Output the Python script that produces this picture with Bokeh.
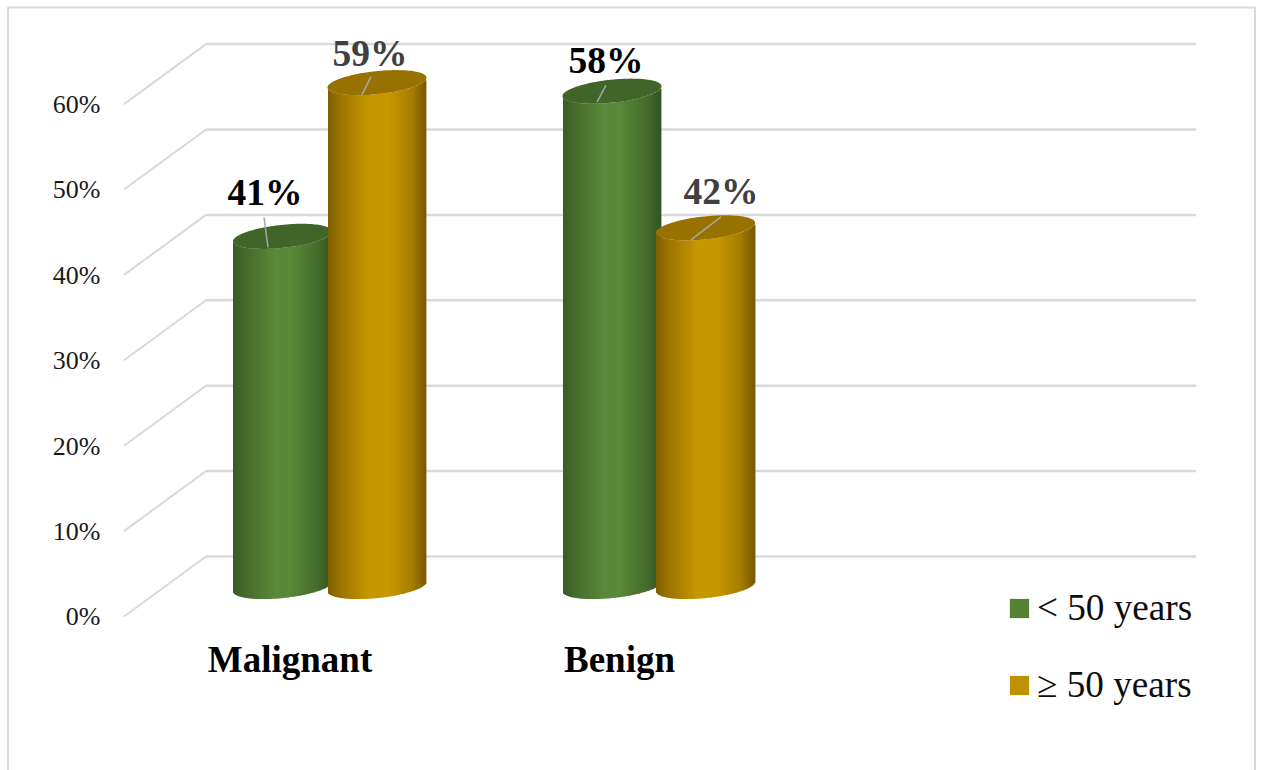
import numpy as np
from bokeh.core.properties import value
from bokeh.embed import file_html
from bokeh.models import Legend, LegendItem
from bokeh.plotting import figure
from bokeh.resources import INLINE

# Chart values
categories = ["Malignant", "Benign"]
under_50 = [41, 58]
over_50 = [59, 42]
under_50_labels = ["41%", "58%"]
over_50_labels = ["59%", "42%"]
tick_values = [0, 10, 20, 30, 40, 50, 60]
tick_labels = ["0%", "10%", "20%", "30%", "40%", "50%", "60%"]
legend_labels = ["< 50 years", "\u2265 50 years"]

W, H = 1262, 770
SERIF = value("Liberation Serif")

# Vertical scale: percent on the back wall, 8.54 px per percentage point
PX_PER_PCT = 8.54
WALL_ZERO_PX = 557
FRONT_DROP_PX = 60
WALL_LEFT, WALL_RIGHT, FRONT_LEFT = 206, 1196, 124
CYL_BASE_PX = 587
GRID = "#d9d9d9"
# Text drawn with an alphabetic baseline lands this fraction of its size low
BASELINE_FIX = 0.33


def from_top(px):
    """Vertical position given in pixels from the top edge, as a percent coordinate."""
    return (WALL_ZERO_PX - np.asarray(px, dtype=float)) / PX_PER_PCT


p = figure(
    width=W, height=H, output_backend="svg", toolbar_location=None,
    x_range=(0.5, W + 0.5), y_range=(float(from_top(H + 1)), float(from_top(1))),
    min_border=0, outline_line_color=None, background_fill_color="white",
)
p.axis.visible = False
p.grid.visible = False

# Outer chart border, open at the bottom
p.line([8, 8, 1255, 1255], from_top([H + 5, 8, 8, H + 5]), line_color=GRID, line_width=2)

# Back wall gridlines and the floor-side diagonals running to the front plane
for v in tick_values:
    p.line([WALL_LEFT, WALL_RIGHT], [v, v], line_color=GRID, line_width=2.5)
    p.line([FRONT_LEFT, WALL_LEFT], [v - FRONT_DROP_PX / PX_PER_PCT, v], line_color=GRID, line_width=2)

# Tick labels sit on the front plane
TICK_SIZE = 26
p.text(
    x=[100.5] * len(tick_values),
    y=[v - (FRONT_DROP_PX + 9 - BASELINE_FIX * TICK_SIZE) / PX_PER_PCT for v in tick_values],
    text=tick_labels, text_font=SERIF, text_font_size=f"{TICK_SIZE}px",
    text_align="right", text_baseline="alphabetic", text_color="#1a1a1a",
)

# Cylinder cross-section: a tilted ellipse, in pixels
SEMI_MAJOR, SEMI_MINOR, TILT = 49.8, 11.5, np.radians(6)
c, s = np.cos(TILT), np.sin(TILT)
A = c**2 / SEMI_MAJOR**2 + s**2 / SEMI_MINOR**2
B = 2 * c * s * (1 / SEMI_MAJOR**2 - 1 / SEMI_MINOR**2)
C = s**2 / SEMI_MAJOR**2 + c**2 / SEMI_MINOR**2
HALF_W = np.sqrt(SEMI_MAJOR**2 * c**2 + SEMI_MINOR**2 * s**2)


def lower_edge(dx):
    """Lower outline of the ellipse (pixels, up positive) at horizontal offset dx."""
    root = np.sqrt(np.maximum(B**2 * dx**2 - 4 * C * (A * dx**2 - 1), 0))
    return (-B * dx - root) / (2 * C)


def shade(stops, t):
    stops = np.array(stops, dtype=float)
    rgb = [np.interp(t, stops[:, 0], stops[:, i]) for i in (1, 2, 3)]
    return ["#%02x%02x%02x" % (int(r), int(g), int(b)) for r, g, b in zip(*rgb)]


GREEN_STOPS = [(0, 0x39, 0x5c, 0x26), (0.12, 0x44, 0x6b, 0x2c), (0.42, 0x59, 0x89, 0x39),
               (0.58, 0x59, 0x89, 0x39), (0.85, 0x45, 0x6c, 0x2c), (1, 0x34, 0x52, 0x20)]
GOLD_STOPS = [(0, 0x80, 0x5e, 0x00), (0.14, 0x9e, 0x76, 0x00), (0.42, 0xc6, 0x98, 0x00),
              (0.62, 0xc6, 0x98, 0x00), (0.85, 0xa6, 0x7e, 0x00), (1, 0x78, 0x58, 0x00)]
GREEN_CAP, GOLD_CAP = "#3f6529", "#977200"


def cylinder(cx, pct, stops, cap_color):
    top_px = CYL_BASE_PX - pct * PX_PER_PCT
    edges = np.arange(np.ceil(cx - HALF_W), np.floor(cx + HALF_W))
    dx = edges + 0.5 - cx
    t = (dx + HALF_W) / (2 * HALF_W)
    p.quad(
        left=edges, right=edges + 1.4,
        bottom=from_top(CYL_BASE_PX - lower_edge(dx)),
        top=from_top(top_px - lower_edge(dx)),
        fill_color=shade(stops, t), line_color=None,
    )
    angle = np.linspace(0, 2 * np.pi, 121)
    ex = SEMI_MAJOR * np.cos(angle) * c - SEMI_MINOR * np.sin(angle) * s
    ey = SEMI_MAJOR * np.cos(angle) * s + SEMI_MINOR * np.sin(angle) * c
    p.patch(cx + ex, from_top(top_px - ey), fill_color=cap_color, line_color=None)
    return top_px


# Cylinder centres, label placement and leader lines, as pixel offsets from each cap centre
GREEN_X = [282.5, 612]
GOLD_X = [377, 705.5]
GREEN_LABEL = [(-17.5, -31), (-6, -18)]
GOLD_LABEL = [(-7, -17), (15.5, -24)]
GREEN_LEADER = [((-18.5, -19), (-14.5, 11)), ((-6, -6), (-15, 11))]
GOLD_LEADER = [((-6, -6), (-15, 12)), ((15.5, -11), (-14.5, 12))]
LEADER = "#a6a6a6"
VALUE_SIZE = 37.5


def annotate(cx, top_px, text, label_off, leader, color):
    (x0, y0), (x1, y1) = leader
    p.line([cx + x0, cx + x1], from_top([top_px + y0, top_px + y1]), line_color=LEADER, line_width=1.5)
    p.text(
        x=[cx + label_off[0]],
        y=[float(from_top(top_px + label_off[1] - BASELINE_FIX * VALUE_SIZE))], text=[text],
        text_font=SERIF, text_font_style="bold", text_font_size=f"{VALUE_SIZE}px",
        text_align="center", text_baseline="alphabetic", text_color=color,
    )


for i in range(len(categories)):
    green_top = cylinder(GREEN_X[i], under_50[i], GREEN_STOPS, GREEN_CAP)
    gold_top = cylinder(GOLD_X[i], over_50[i], GOLD_STOPS, GOLD_CAP)
    annotate(GREEN_X[i], green_top, under_50_labels[i], GREEN_LABEL[i], GREEN_LEADER[i], "#000000")
    annotate(GOLD_X[i], gold_top, over_50_labels[i], GOLD_LABEL[i], GOLD_LEADER[i], "#404040")

# Category names
CATEGORY_SIZE = 37
p.text(
    x=[290, 619.5], y=from_top(np.array([672, 672]) - BASELINE_FIX * CATEGORY_SIZE), text=categories,
    text_font=SERIF, text_font_style="bold", text_font_size=f"{CATEGORY_SIZE}px",
    text_align="center", text_baseline="alphabetic", text_color="#000000",
)

# Legend with flat colour swatches; the swatch renderers lie outside the visible range
swatch_green = p.quad(left=[-50], right=[-40], bottom=[0], top=[1], fill_color="#548235", line_color=None)
swatch_gold = p.quad(left=[-50], right=[-40], bottom=[0], top=[1], fill_color="#bf9000", line_color=None)
legend = Legend(
    items=[LegendItem(label=legend_labels[0], renderers=[swatch_green], index=0),
           LegendItem(label=legend_labels[1], renderers=[swatch_gold], index=0)],
    location=(1007, 64), orientation="vertical",
    glyph_width=24, glyph_height=24, label_standoff=6, spacing=34, padding=0, margin=0,
    label_text_font="Liberation Serif", label_text_font_size="37.2px", label_text_color="#0d0d0d",
    background_fill_alpha=0, border_line_color=None,
)
p.add_layout(legend)

open("out.html", "w").write(file_html(p, INLINE))
